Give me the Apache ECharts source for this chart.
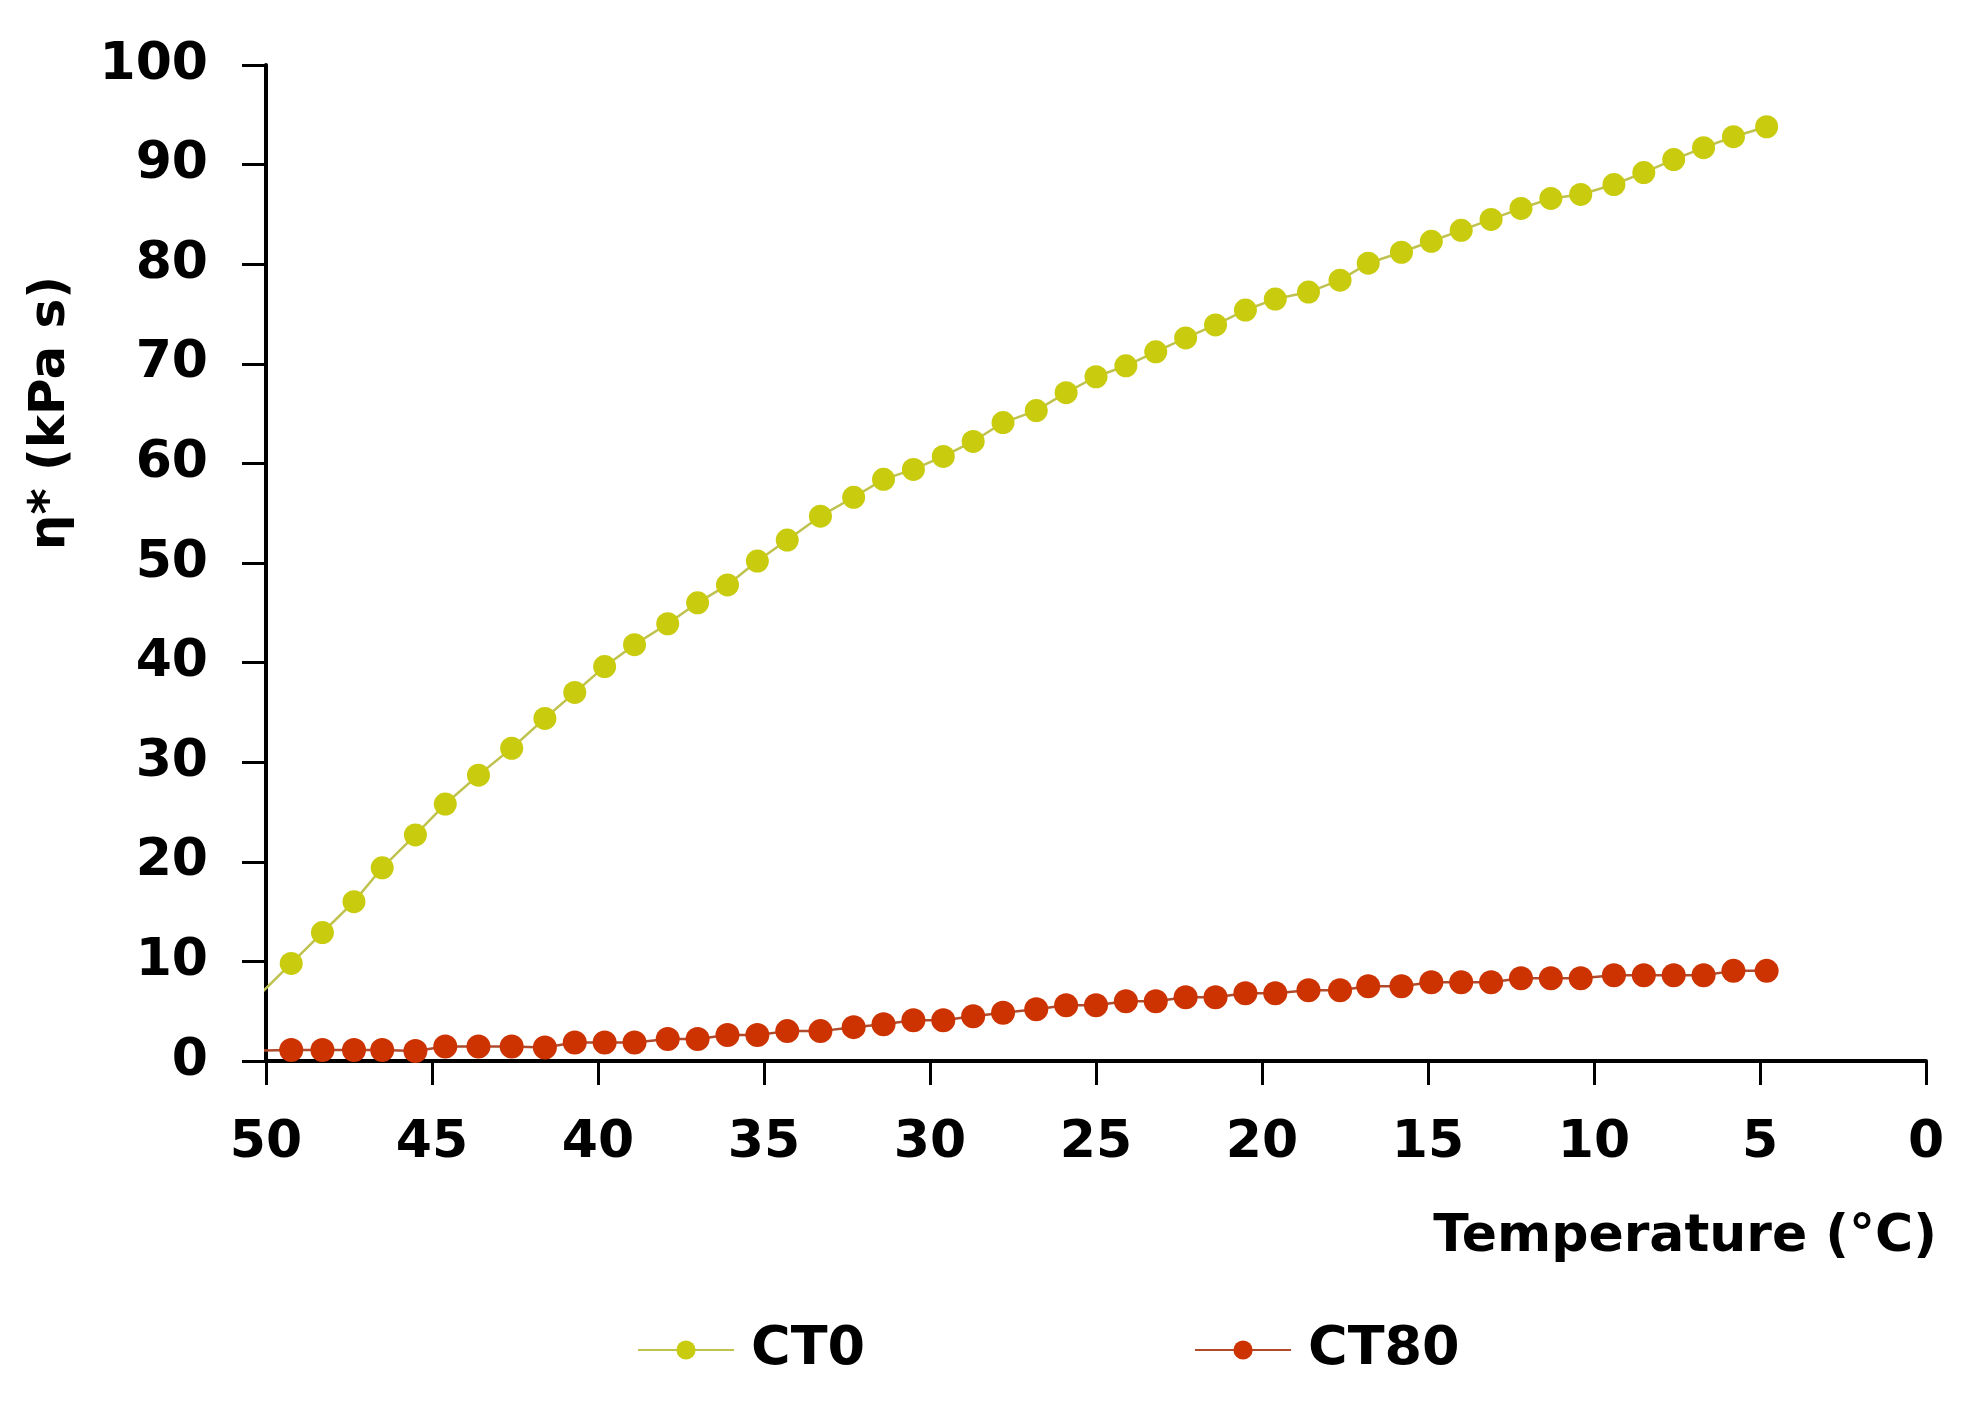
<!DOCTYPE html>
<html>
<head>
<meta charset="utf-8">
<script src="https://cdn.jsdelivr.net/npm/echarts@6/dist/echarts.min.js"></script>
<style>
html,body{margin:0;padding:0;background:#fff;}
#chart{width:1968px;height:1408px;}
</style>
</head>
<body>
<div id="chart"></div>
<script>
// Temperature (°C) of each measurement (first one lies just beyond the axis edge)
const temps = [50.15, 49.24, 48.3, 47.35, 46.5, 45.5, 44.6, 43.6, 42.6, 41.6, 40.7,
  39.8, 38.9, 37.9, 37.0, 36.1, 35.2, 34.3, 33.3, 32.3, 31.4,
  30.5, 29.6, 28.7, 27.8, 26.8, 25.9, 25.0, 24.1, 23.2, 22.3,
  21.4, 20.5, 19.6, 18.6, 17.65, 16.8, 15.8, 14.9, 14.0, 13.1,
  12.2, 11.3, 10.4, 9.4, 8.5, 7.6, 6.7, 5.8, 4.8];
// η* (kPa s)
const ct0 = [6.8, 9.8, 12.9, 16.0, 19.4, 22.7, 25.8, 28.7, 31.4, 34.4, 37.0,
  39.6, 41.8, 43.9, 46.0, 47.8, 50.2, 52.3, 54.7, 56.6, 58.4,
  59.4, 60.7, 62.2, 64.1, 65.3, 67.1, 68.7, 69.8, 71.2, 72.6,
  73.9, 75.4, 76.5, 77.2, 78.4, 80.1, 81.2, 82.3, 83.4, 84.5,
  85.6, 86.6, 87.0, 88.0, 89.2, 90.5, 91.7, 92.8, 93.8];
const ct80 = [1.05, 1.1, 1.1, 1.1, 1.1, 1.0, 1.45, 1.45, 1.45, 1.35, 1.85,
  1.85, 1.85, 2.2, 2.2, 2.6, 2.6, 3.0, 3.0, 3.4, 3.7,
  4.1, 4.1, 4.5, 4.85, 5.2, 5.6, 5.6, 6.0, 6.0, 6.4,
  6.4, 6.8, 6.8, 7.1, 7.1, 7.5, 7.5, 7.9, 7.9, 7.9,
  8.3, 8.3, 8.3, 8.6, 8.6, 8.6, 8.6, 9.05, 9.05];
const seriesNames = ['CT0', 'CT80'];
const xTicks = {min: 0, max: 50, interval: 5};
const yTicks = {min: 0, max: 100, interval: 10};

const pair = (ys) => temps.map((t, i) => [t, ys[i]]);
const FONT = 'DejaVu Sans';

const chart = echarts.init(document.getElementById('chart'), null, {renderer: 'canvas'});
chart.setOption({
  backgroundColor: '#ffffff',
  animation: false,
  grid: {left: 266, right: 42, top: 65, bottom: 347},
  legend: {
    data: seriesNames,
    left: 632,
    top: 1318,
    itemWidth: 96,
    itemHeight: 24,
    itemGap: 329,
    textStyle: {fontFamily: FONT, fontWeight: 'bold', fontSize: 54, color: '#000', padding: [0, 0, 0, 12]}
  },
  xAxis: {
    type: 'value',
    inverse: true,
    min: xTicks.min, max: xTicks.max, interval: xTicks.interval,
    name: 'Temperature (°C)',
    nameLocation: 'start',
    nameGap: 11,
    nameTextStyle: {fontFamily: FONT, fontWeight: 'bold', fontSize: 52, color: '#000',
      align: 'right', verticalAlign: 'top', padding: [150, 0, 0, 0]},
    axisLine: {show: true, onZero: false, lineStyle: {color: '#000', width: 4}},
    axisTick: {show: true, inside: false, length: 24, lineStyle: {color: '#000', width: 3}},
    splitLine: {show: false},
    axisLabel: {fontFamily: FONT, fontWeight: 'bold', fontSize: 52, color: '#000', margin: 56}
  },
  yAxis: {
    type: 'value',
    position: 'left',
    min: yTicks.min, max: yTicks.max, interval: yTicks.interval,
    name: 'η* (kPa s)',
    nameLocation: 'middle',
    nameRotate: 90,
    nameGap: 190,
    nameTextStyle: {fontFamily: FONT, fontWeight: 'bold', fontSize: 50, color: '#000', padding: [0, 0, 0, 300]},
    axisLine: {show: true, onZero: false, lineStyle: {color: '#000', width: 4}},
    axisTick: {show: true, inside: false, length: 24, lineStyle: {color: '#000', width: 3}},
    splitLine: {show: false},
    axisLabel: {fontFamily: FONT, fontWeight: 'bold', fontSize: 52, color: '#000', margin: 58}
  },
  series: [
    {
      name: seriesNames[0],
      type: 'line',
      data: pair(ct0),
      clip: true,
      symbol: 'circle',
      symbolSize: 23,
      itemStyle: {color: '#c9cc0e'},
      lineStyle: {color: '#bfc24e', width: 2.5}
    },
    {
      name: seriesNames[1],
      type: 'line',
      data: pair(ct80),
      clip: true,
      symbol: 'circle',
      symbolSize: 24,
      itemStyle: {color: '#cc3300'},
      lineStyle: {color: '#b04a2c', width: 2.5}
    }
  ]
});
</script>
</body>
</html>
